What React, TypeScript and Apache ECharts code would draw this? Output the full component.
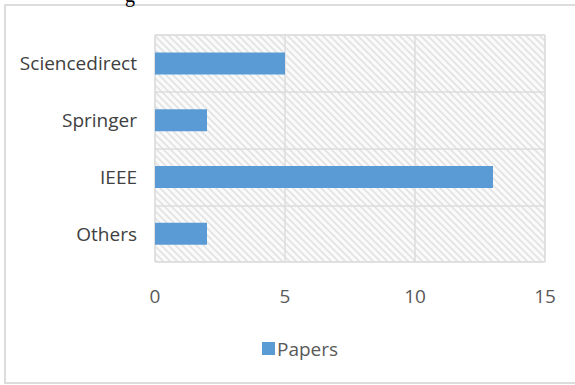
import React, { useEffect, useRef } from "react";
import * as echarts from "echarts";

const categories = ["Sciencedirect", "Springer", "IEEE", "Others"];
const papers = [5, 2, 13, 2];
const xTicks = [0, 5, 10, 15];
const seriesName = "Papers";

function makeHatch(): string {
  const s = 7;
  const c = document.createElement("canvas");
  c.width = s;
  c.height = s;
  const ctx = c.getContext("2d")!;
  ctx.fillStyle = "#fafafa";
  ctx.fillRect(0, 0, s, s);
  ctx.strokeStyle = "#e2e2e2";
  ctx.lineWidth = 1.6;
  ctx.beginPath();
  ctx.moveTo(-1, -1);
  ctx.lineTo(s + 1, s + 1);
  ctx.moveTo(-1 - s, -1);
  ctx.lineTo(1, s + 1);
  ctx.moveTo(s - 1, -1);
  ctx.lineTo(2 * s + 1, s + 1);
  ctx.stroke();
  return c.toDataURL();
}

export default function App() {
  const ref = useRef<HTMLDivElement>(null);
  useEffect(() => {
    if (!ref.current) return;
    const chart = echarts.init(ref.current, undefined, { renderer: "svg" });
    const hatch = makeHatch();
    chart.setOption({
      animation: false,
      backgroundColor: "#ffffff",
      textStyle: { fontFamily: "Open Sans" },
      grid: {
        left: 155,
        right: 30,
        top: 35,
        bottom: 123,
        show: true,
        borderColor: "#dcdcdc",
        borderWidth: 1,
        backgroundColor: { image: hatch, repeat: "repeat", imageWidth: 7, imageHeight: 7 } as any,
      },
      xAxis: {
        type: "value",
        min: xTicks[0],
        max: xTicks[xTicks.length - 1],
        interval: 5,
        axisLine: { show: false },
        axisTick: { show: false },
        splitLine: { show: true, lineStyle: { color: "#dcdcdc", width: 1.5 } },
        axisLabel: { color: "#595959", fontSize: 19, margin: 24, fontFamily: "Open Sans" },
      },
      yAxis: {
        type: "category",
        data: categories,
        inverse: true,
        axisLine: { show: false },
        axisTick: { show: false },
        splitLine: { show: true, lineStyle: { color: "#dcdcdc", width: 1.5 } },
        axisLabel: { color: "#404040", fontSize: 19, margin: 18, fontFamily: "Open Sans" },
      },
      legend: {
        data: [seriesName],
        bottom: 22,
        left: 257,
        itemWidth: 13,
        itemHeight: 13,
        icon: "rect",
        itemGap: 10,
        textStyle: { color: "#595959", fontSize: 19, fontFamily: "Open Sans", padding: [0, 0, 0, -3] },
      },
      graphic: [
        {
          type: "rect",
          shape: { x: 5, y: 5, width: 580, height: 378 },
          style: { fill: "none", stroke: "#dcdcdc", lineWidth: 2 },
          silent: true,
        },
        {
          type: "text",
          left: 125,
          top: -15,
          style: { text: "g", font: "20px 'Liberation Serif'", fill: "#000000" },
          silent: true,
        },
      ],
      series: [
        {
          name: seriesName,
          type: "bar",
          data: papers,
          barWidth: 22,
          itemStyle: { color: "#5b9bd5" },
        },
      ],
    });
    return () => chart.dispose();
  }, []);
  return (
    <div
      ref={ref}
      style={{ position: "fixed", left: 0, top: 0, width: 575, height: 385 }}
    />
  );
}
